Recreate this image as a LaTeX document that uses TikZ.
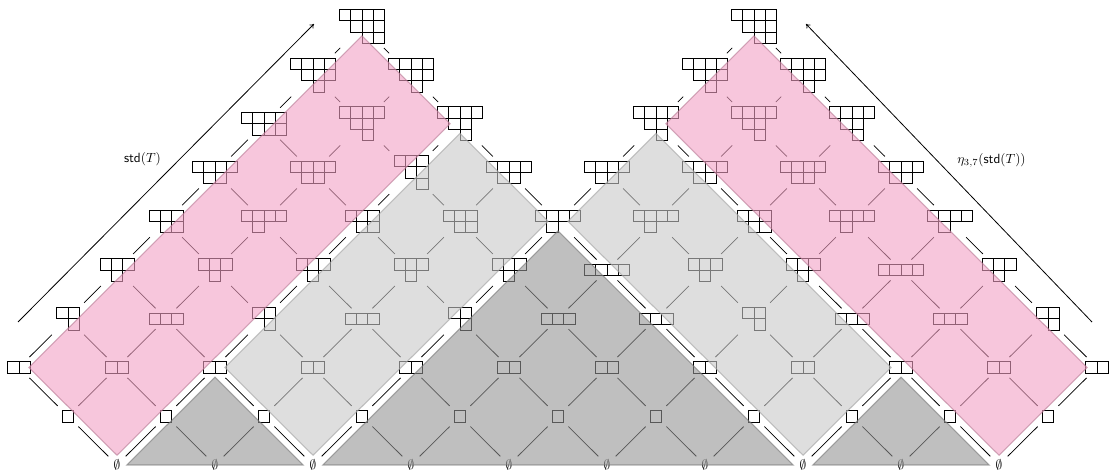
\documentclass[tikz,border=0pt]{standalone}
\usetikzlibrary{arrows.meta}
\definecolor{pinkc}{RGB}{242,160,196}
\definecolor{lgc}{RGB}{200,200,200}
\definecolor{dgc}{RGB}{148,148,148}
\tikzset{
  shpnode/.style={draw=none, inner sep=0pt, outer sep=0pt, rectangle},
  boxst/.style={line width=0.6pt, draw=black},
  edge/.style={line width=0.6pt, shorten <=5pt, shorten >=5pt},
  emp/.style={inner sep=0.5pt, outer sep=0pt},
  region/.style={fill opacity=0.6, draw opacity=0.6, line width=0.8pt},
  bigarrow/.style={line width=0.6pt, -{To[length=3pt,width=4pt]}},
}
\newcommand{\shp}[5]{%
  \node[shpnode, minimum width=#3*8.5pt, minimum height=#4*8.5pt] (v#1-#2) at (#1,#2) {};
  \foreach \rr [count=\ii from 0] in {#5} {
    \foreach \cc in {1,...,\rr} {
      \draw[boxst, shift={(v#1-#2.north west)}] ({(\ii+\cc-1)*8.5pt},{-\ii*8.5pt}) rectangle ++(8.5pt,-8.5pt);
    }
  }%
}
\makeatletter
\newcommand\edgeif[2]{\pgfutil@ifundefined{pgf@sh@ns@#1}{}{\pgfutil@ifundefined{pgf@sh@ns@#2}{}{\draw[edge] (#1) -- (#2);}}}
\makeatother
\begin{document}
\begin{tikzpicture}[x=36.75pt,y=36.5625pt]
\useasboundingbox (-14.25pt,-6pt) rectangle (818.25pt,348.75pt);
% level 0,1,2
\foreach \p in {2,4,...,20} {\node[emp] (v\p-0) at (\p,0) {$\emptyset$};}
\foreach \p in {1,3,...,21} {\shp{\p}{1}{1}{1}{1}}
\foreach \p in {0,2,...,22} {\shp{\p}{2}{2}{1}{2}}
% level 3
\shp{1}{3}{2}{2}{2,1}
\shp{3}{3}{3}{1}{3}
\shp{5}{3}{2}{2}{2,1}
\shp{7}{3}{3}{1}{3}
\shp{9}{3}{2}{2}{2,1}
\shp{11}{3}{3}{1}{3}
\shp{13}{3}{3}{1}{3}
\shp{15}{3}{2}{2}{2,1}
\shp{17}{3}{3}{1}{3}
\shp{19}{3}{3}{1}{3}
\shp{21}{3}{2}{2}{2,1}
% level 4
\shp{2}{4}{3}{2}{3,1}
\shp{4}{4}{3}{2}{3,1}
\shp{6}{4}{3}{2}{3,1}
\shp{8}{4}{3}{2}{3,1}
\shp{10}{4}{3}{2}{3,1}
\shp{12}{4}{4}{1}{4}
\shp{14}{4}{3}{2}{3,1}
\shp{16}{4}{3}{2}{3,1}
\shp{18}{4}{4}{1}{4}
\shp{20}{4}{3}{2}{3,1}
% level 5
\shp{3}{5}{3}{2}{3,2}
\shp{5}{5}{4}{2}{4,1}
\shp{7}{5}{3}{2}{3,2}
\shp{9}{5}{3}{2}{3,2}
\shp{11}{5}{4}{2}{4,1}
\shp{13}{5}{4}{2}{4,1}
\shp{15}{5}{3}{2}{3,2}
\shp{17}{5}{4}{2}{4,1}
\shp{19}{5}{4}{2}{4,1}
% level 6
\shp{4}{6}{4}{2}{4,2}
\shp{6}{6}{4}{2}{4,2}
\shp{8}{6}{3}{3}{3,2,1}
\shp{10}{6}{4}{2}{4,2}
\shp{12}{6}{4}{2}{4,2}
\shp{14}{6}{4}{2}{4,2}
\shp{16}{6}{4}{2}{4,2}
\shp{18}{6}{4}{2}{4,2}
% level 7
\shp{5}{7}{4}{2}{4,3}
\shp{7}{7}{4}{3}{4,2,1}
\shp{9}{7}{4}{3}{4,2,1}
\shp{13}{7}{4}{3}{4,2,1}
\shp{15}{7}{4}{3}{4,2,1}
\shp{17}{7}{4}{3}{4,2,1}
% level 8
\shp{6}{8}{4}{3}{4,3,1}
\shp{8}{8}{4}{3}{4,3,1}
\shp{14}{8}{4}{3}{4,3,1}
\shp{16}{8}{4}{3}{4,3,1}
% level 9
\shp{7}{9}{4}{3}{4,3,2}
\shp{15}{9}{4}{3}{4,3,2}
% edges
\foreach \p in {0,...,22} {
  \foreach \n in {0,...,8} {
    \pgfmathtruncatemacro\myPa{\p+1}
    \pgfmathtruncatemacro\myPb{\p-1}
    \pgfmathtruncatemacro\myN{\n+1}
    \edgeif{v\p-\n}{v\myPa-\myN}
    \edgeif{v\p-\n}{v\myPb-\myN}
  }
}
% regions (translucent overlays)
\filldraw[region, fill=pinkc, draw=pinkc!75!black] (2,0.2) -- (0.2,2) -- (7,8.8) -- (8.8,7) -- cycle;
\filldraw[region, fill=lgc, draw=lgc!80!black] (6,0.2) -- (4.2,2) -- (9,6.8) -- (10.8,5) -- cycle;
\filldraw[region, fill=dgc, draw=dgc!80!black] (2.2,0) -- (4,1.8) -- (5.8,0) -- cycle;
\filldraw[region, fill=dgc, draw=dgc!80!black] (6.2,0) -- (11,4.8) -- (15.8,0) -- cycle;
\filldraw[region, fill=dgc, draw=dgc!80!black] (16.2,0) -- (18,1.8) -- (19.8,0) -- cycle;
\filldraw[region, fill=lgc, draw=lgc!80!black] (16,0.2) -- (11.2,5) -- (13,6.8) -- (17.8,2) -- cycle;
\filldraw[region, fill=pinkc, draw=pinkc!75!black] (20,0.2) -- (13.2,7) -- (15,8.8) -- (21.8,2) -- cycle;
% arrows and labels
\coordinate (la) at (-0.02,2.933);
\coordinate (lb) at (6.02,9.046);
\coordinate (ra) at (21.898,2.933);
\coordinate (rb) at (16.061,9.046);
\draw[bigarrow] (la) -- (lb);
\draw[bigarrow] (ra) -- (rb);
\node (lstd) at (2.52,6.28) {$\mathsf{std}(T)$};
\node (leta) at (19.847,6.256) {$\eta_{3,7}(\mathsf{std}(T))$};
\end{tikzpicture}
\end{document}
